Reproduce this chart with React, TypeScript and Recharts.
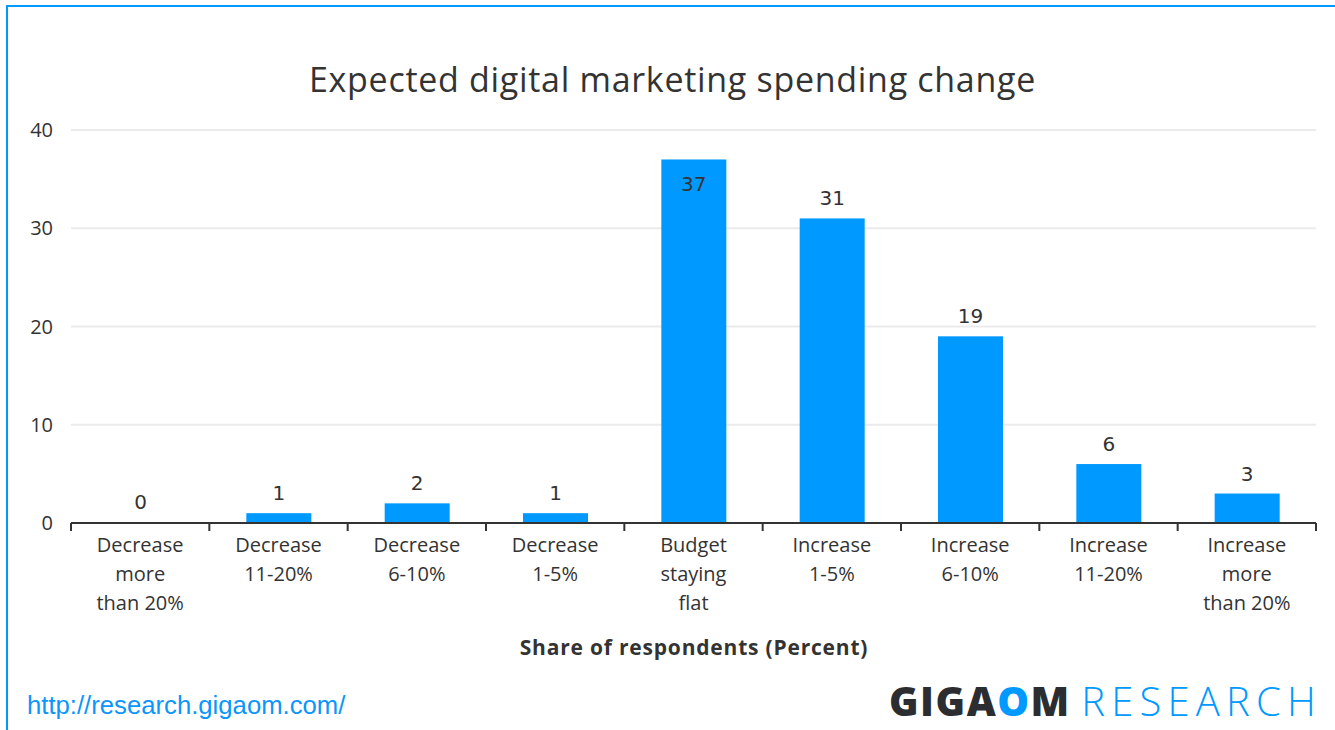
import React from "react";
import {
    BarChart,
    Bar,
    XAxis,
    YAxis,
    CartesianGrid,
    LabelList,
} from "recharts";

// survey buckets, left to right
const categories = [
    "Decrease\nmore\nthan 20%",
    "Decrease\n11-20%",
    "Decrease\n6-10%",
    "Decrease\n1-5%",
    "Budget\nstaying\nflat",
    "Increase\n1-5%",
    "Increase\n6-10%",
    "Increase\n11-20%",
    "Increase\nmore\nthan 20%",
];
const shares = [0, 1, 2, 1, 37, 31, 19, 6, 3];
const yTicks = [0, 10, 20, 30, 40];

const BLUE = "#0099ff";
const INK = "#333333";
const FONT = "'Open Sans', sans-serif";

const data = categories.map((c, i) => ({ category: c, share: shares[i] }));

const CategoryTick = (props: any) => {
    const { x, y, payload, index } = props;
    const half = payload?.offset ?? 69;
    const lines = String(payload.value).split("\n");
    return (
        <g>
            <line x1={x - half} x2={x - half} y1={y} y2={y + 8} stroke={INK} strokeWidth={2} />
            {index === categories.length - 1 && (
                <line x1={x + half} x2={x + half} y1={y} y2={y + 8} stroke={INK} strokeWidth={2} />
            )}
            <text textAnchor="middle" fontFamily={FONT} fontSize={20} fill={INK}>
                {lines.map((l, i) => (
                    <tspan key={i} x={x} y={y + 29 + i * 29}>
                        {l}
                    </tspan>
                ))}
            </text>
        </g>
    );
};

// zero bars get a 1px placeholder so the label still shows, but draw nothing
const BarShape = (props: any) => {
    const { x, y, width, height, payload } = props;
    if (!payload || !payload.share) return <g />;
    return <rect x={x} y={y} width={width} height={height} fill={BLUE} />;
};

const ValueLabel = (props: any) => {
    const { x, y, width, value } = props;
    // the tallest bar keeps its label inside, like the original
    const inside = value > 35;
    return (
        <text
            x={x + width / 2}
            y={inside ? y + 32 : y - 13}
            textAnchor="middle"
            fontFamily="'DejaVu Sans', sans-serif"
            fontSize={20}
            fill={INK}
        >
            {String(value)}
        </text>
    );
};

export default function App() {
    return (
        <div
            style={{
                position: "relative",
                width: 1335,
                height: 730,
                background: "#fff",
                fontFamily: FONT,
            }}
        >
            <style>{"body{margin:0}"}</style>
            <div
                style={{
                    position: "absolute",
                    left: 0,
                    width: 1345,
                    top: 56,
                    textAlign: "center",
                    fontSize: 34,
                    letterSpacing: 0.7,
                    lineHeight: "46px",
                    color: INK,
                }}
            >
                Expected digital marketing spending change
            </div>
            <div style={{ position: "absolute", left: 0, top: 0 }}>
                <BarChart
                    width={1335}
                    height={730}
                    data={data}
                    margin={{ top: 130, right: 19, bottom: 87, left: 11 }}
                >
                    <CartesianGrid vertical={false} stroke="#ebebeb" strokeWidth={2} />
                    <XAxis
                        dataKey="category"
                        interval={0}
                        tickLine={false}
                        tickSize={0}
                        tickMargin={0}
                        axisLine={{ stroke: INK, strokeWidth: 2 }}
                        tick={<CategoryTick />}
                        height={120}
                    />
                    <YAxis
                        domain={[0, 40]}
                        ticks={yTicks}
                        axisLine={false}
                        tickLine={false}
                        tickSize={0}
                        tickMargin={18}
                        width={60}
                        tick={{ fill: INK, fontSize: 20, fontFamily: FONT }}
                    />
                    <Bar
                        dataKey="share"
                        fill={BLUE}
                        barSize={65}
                        minPointSize={1}
                        shape={<BarShape />}
                        isAnimationActive={false}
                    >
                        <LabelList dataKey="share" content={<ValueLabel />} />
                    </Bar>
                    {/* frame: only the top and left edges show in the original crop */}
                    <path d="M7 740 L7 6 L1340 6" fill="none" stroke={BLUE} strokeWidth={2} />
                </BarChart>
            </div>
            <div
                style={{
                    position: "absolute",
                    left: 0,
                    width: 1388,
                    top: 632,
                    textAlign: "center",
                    fontSize: 21,
                    letterSpacing: 0.8,
                    fontWeight: 700,
                    lineHeight: "30px",
                    color: INK,
                }}
            >
                Share of respondents (Percent)
            </div>
            <div
                style={{
                    position: "absolute",
                    left: 27,
                    top: 689,
                    fontFamily: "'Liberation Sans', Arial, sans-serif",
                    fontSize: 25.7,
                    lineHeight: "32px",
                    color: "#0a96fa",
                }}
            >
                http://research.gigaom.com/
            </div>
            <div
                style={{
                    position: "absolute",
                    right: 13,
                    top: 678,
                    fontSize: 40,
                    lineHeight: "46px",
                    whiteSpace: "nowrap",
                }}
            >
                <span style={{ fontWeight: 800, color: "#2b2d31", letterSpacing: 1.5 }}>GIGA</span>
                <span style={{ fontWeight: 800, color: BLUE, letterSpacing: 1.5 }}>O</span>
                <span style={{ fontWeight: 800, color: "#2b2d31" }}>M</span>
                <span style={{ fontWeight: 300, color: BLUE, letterSpacing: 6.2, marginLeft: 12 }}>
                    RESEARCH
                </span>
            </div>
        </div>
    );
}
